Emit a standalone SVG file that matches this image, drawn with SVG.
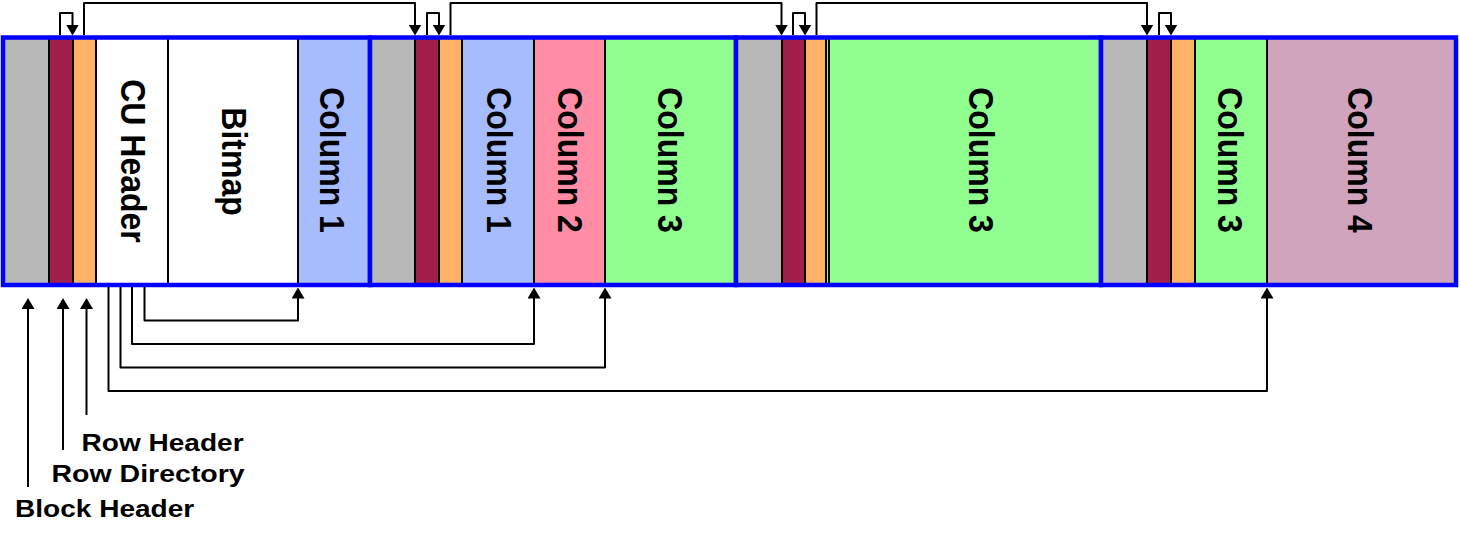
<svg xmlns="http://www.w3.org/2000/svg" width="1460" height="534" viewBox="0 0 1460 534">
<style>
.seg{stroke:#000;stroke-width:2}
.gray{fill:#B8B8B8}.dr{fill:#A31F4B}.or{fill:#FFB266}.wh{fill:#FFFFFF}
.bl{fill:#A6BCFD}.pk{fill:#FF8DA6}.gr{fill:#90FF90}.mv{fill:#D0A4BC}
.blk{fill:none;stroke:#0000FF;stroke-width:4.5}
.vt{font-family:"Liberation Sans",Arial,sans-serif;font-weight:bold;font-size:32px;fill:#000;text-anchor:middle}
.lb{font-family:"Liberation Sans",Arial,sans-serif;font-weight:bold;font-size:23px;fill:#000}
.cn{fill:none;stroke:#000;stroke-width:2;stroke-linejoin:round}
</style>
<defs>
<marker id="ah" viewBox="0 0 11 13" refX="9" refY="6.5" markerWidth="11" markerHeight="13" markerUnits="userSpaceOnUse" orient="auto">
<path d="M0,0 L11,6.5 L0,13 z" fill="#000"/>
</marker>
</defs>
<rect width="1460" height="534" fill="#fff"/>
<g id="block1">
<g id="b1-block-header"><rect class="seg gray" x="3" y="37.5" width="46" height="247.5"/></g>
<g id="b1-row-directory"><rect class="seg dr" x="49" y="37.5" width="24" height="247.5"/></g>
<g id="b1-row-header"><rect class="seg or" x="73" y="37.5" width="23" height="247.5"/></g>
<g id="b1-cu-header"><rect class="seg wh" x="96" y="37.5" width="72" height="247.5"/><text class="vt" transform="translate(120.5,161) rotate(90) scale(1,1.08)">CU Header</text></g>
<g id="b1-bitmap"><rect class="seg wh" x="168" y="37.5" width="130" height="247.5"/><text class="vt" transform="translate(221.5,161.5) rotate(90) scale(1,1.08)">Bitmap</text></g>
<g id="b1-column1"><rect class="seg bl" x="298" y="37.5" width="72" height="247.5"/><text class="vt" transform="translate(320,160) rotate(90) scale(1,1.08)">Column 1</text></g>
<rect class="blk" x="3" y="37.5" width="367" height="247.5"/>
</g>
<g id="block2">
<g id="b2-block-header"><rect class="seg gray" x="370" y="37.5" width="45" height="247.5"/></g>
<g id="b2-row-directory"><rect class="seg dr" x="415" y="37.5" width="24" height="247.5"/></g>
<g id="b2-row-header"><rect class="seg or" x="439" y="37.5" width="23" height="247.5"/></g>
<g id="b2-column1"><rect class="seg bl" x="462" y="37.5" width="72" height="247.5"/><text class="vt" transform="translate(486.7,160) rotate(90) scale(1,1.08)">Column 1</text></g>
<g id="b2-column2"><rect class="seg pk" x="534" y="37.5" width="71" height="247.5"/><text class="vt" transform="translate(557.7,160) rotate(90) scale(1,1.08)">Column 2</text></g>
<g id="b2-column3"><rect class="seg gr" x="605" y="37.5" width="131" height="247.5"/><text class="vt" transform="translate(658.3,160) rotate(90) scale(1,1.08)">Column 3</text></g>
<rect class="blk" x="370" y="37.5" width="366" height="247.5"/>
</g>
<g id="block3">
<g id="b3-block-header"><rect class="seg gray" x="736" y="37.5" width="46" height="247.5"/></g>
<g id="b3-row-directory"><rect class="seg dr" x="782" y="37.5" width="23" height="247.5"/></g>
<g id="b3-row-header"><rect class="seg or" x="805" y="37.5" width="21" height="247.5"/></g>
<g id="b3-cu-header"><rect class="seg gr" x="826" y="37.5" width="3" height="247.5"/></g>
<g id="b3-column3"><rect class="seg gr" x="829" y="37.5" width="272" height="247.5"/><text class="vt" transform="translate(969,160) rotate(90) scale(1,1.08)">Column 3</text></g>
<rect class="blk" x="736" y="37.5" width="365" height="247.5"/>
</g>
<g id="block4">
<g id="b4-block-header"><rect class="seg gray" x="1101" y="37.5" width="46" height="247.5"/></g>
<g id="b4-row-directory"><rect class="seg dr" x="1147" y="37.5" width="24" height="247.5"/></g>
<g id="b4-row-header"><rect class="seg or" x="1171" y="37.5" width="24" height="247.5"/></g>
<g id="b4-column3"><rect class="seg gr" x="1195" y="37.5" width="72" height="247.5"/><text class="vt" transform="translate(1217.6,160) rotate(90) scale(1,1.08)">Column 3</text></g>
<g id="b4-column4"><rect class="seg mv" x="1267" y="37.5" width="189" height="247.5"/><text class="vt" transform="translate(1348.3,160) rotate(90) scale(1,1.08)">Column 4</text></g>
<rect class="blk" x="1101" y="37.5" width="355" height="247.5"/>
</g>
<g id="connectors">
<path class="cn" marker-end="url(#ah)" d="M60,35 V13 H72.5 V33.5"/>
<path class="cn" marker-end="url(#ah)" d="M84,35 V3 H415 V33.5"/>
<path class="cn" marker-end="url(#ah)" d="M427,35 V13 H439 V33.5"/>
<path class="cn" marker-end="url(#ah)" d="M450.5,35 V3 H781.5 V33.5"/>
<path class="cn" marker-end="url(#ah)" d="M793,35 V13 H805 V33.5"/>
<path class="cn" marker-end="url(#ah)" d="M816.5,35 V3 H1147 V33.5"/>
<path class="cn" marker-end="url(#ah)" d="M1159,35 V13 H1171 V33.5"/>
<path class="cn" marker-end="url(#ah)" d="M144.5,287 V320.5 H298 V289.5"/>
<path class="cn" marker-end="url(#ah)" d="M132,287 V344 H534 V289.5"/>
<path class="cn" marker-end="url(#ah)" d="M120.5,287 V367.5 H605 V289.5"/>
<path class="cn" marker-end="url(#ah)" d="M108.5,287 V391 H1267 V289.5"/>
<path class="cn" marker-end="url(#ah)" d="M28,487 V300"/>
<path class="cn" marker-end="url(#ah)" d="M63,450 V300"/>
<path class="cn" marker-end="url(#ah)" d="M86.5,415 V300"/>
</g>
<g id="labels">
<text class="lb" transform="translate(81.5,450.5) scale(1.22,1)">Row Header</text>
<text class="lb" transform="translate(51.5,482) scale(1.24,1)">Row Directory</text>
<text class="lb" transform="translate(15,517) scale(1.22,1)">Block Header</text>
</g>
</svg>
